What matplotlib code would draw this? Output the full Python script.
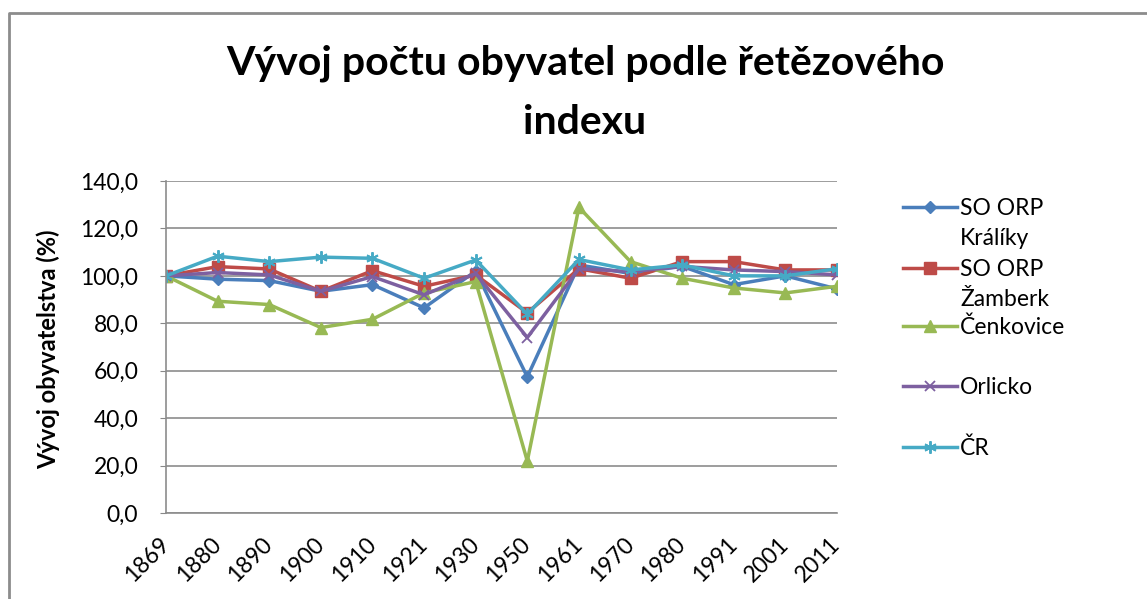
import numpy as np
import matplotlib.pyplot as plt
from matplotlib.lines import Line2D
from matplotlib.transforms import ScaledTranslation

# data (chain index, %)
years = ['1869', '1880', '1890', '1900', '1910', '1921', '1930',
         '1950', '1961', '1970', '1980', '1991', '2001', '2011']
kraliky = [100, 98.6, 98.0, 93.5, 96.3, 86.5, 102.0, 57.4, 104.6, 101.0, 104.0, 96.3, 100.0, 94.5]
zamberk = [100, 103.9, 102.9, 93.5, 102.2, 95.6, 100.4, 84.4, 103.0, 99.0, 106.0, 106.0, 102.5, 102.5]
cenkovice = [100, 89.3, 87.9, 78.2, 81.7, 92.8, 97.6, 21.9, 128.9, 106.0, 99.0, 94.9, 92.8, 95.6]
orlicko = [100, 101.4, 100.4, 93.5, 99.7, 92.0, 101.0, 74.0, 103.0, 101.8, 104.0, 102.5, 101.8, 100.4]
cr = [100, 108.3, 106.0, 107.9, 107.4, 99.0, 106.7, 83.8, 106.9, 102.5, 104.6, 100.0, 100.0, 103.0]

names = ['SO ORP\nKrálíky', 'SO ORP\nŽamberk', 'Čenkovice', 'Orlicko', 'ČR']
yticks = [0, 20, 40, 60, 80, 100, 120, 140]
title_lines = ['Vývoj počtu obyvatel podle řetězového', 'indexu']

plt.rcParams['font.family'] = ['Lato', 'DejaVu Sans']

# styles in Excel 2007 look
styles = [
    dict(color='#4A7EBB', marker='D', ms=6.5),
    dict(color='#BE4B48', marker='s', ms=8),
    dict(color='#98B954', marker='^', ms=9),
    dict(color='#7D60A0', marker='x', ms=7.5, mew=1.3),
    dict(color='#46AAC5', marker=(6, 2, 0), ms=9, mew=1.4),
]

W, H = 1147, 599
fig = plt.figure(figsize=(W / 100, H / 100), dpi=100)
ax = fig.add_axes([166 / W, 1 - 513 / H, 671 / W, 332 / H])

x = np.arange(len(years))
series = [kraliky, zamberk, cenkovice, orlicko, cr]
for vals, st in zip(series, styles):
    ax.plot(x, vals, lw=2.5, **st)

ax.set_xlim(0, len(years) - 1)
ax.set_ylim(0, 140)
ax.set_yticks(yticks)
ax.set_yticklabels([f'{v:.1f}'.replace('.', ',') for v in yticks], fontsize=16.5)
ax.set_xticks(x)
ax.set_xticklabels(years, fontsize=16.5, rotation=45, ha='right', va='center',
                   rotation_mode='anchor')
shift = ScaledTranslation(4 / 100, 0, fig.dpi_scale_trans)
for lbl in ax.get_xticklabels():
    lbl.set_transform(lbl.get_transform() + shift)
ax.tick_params(axis='x', length=0, pad=20)
ax.tick_params(axis='y', length=4, color='#888888', pad=16, direction='out')
ax.grid(axis='y', color='#8c8c8c', lw=1.2)
ax.set_axisbelow(True)
for s in ['top', 'right']:
    ax.spines[s].set_visible(False)
for s in ['left', 'bottom']:
    ax.spines[s].set_color('#8c8c8c')
    ax.spines[s].set_linewidth(1.2)

ax.set_ylabel('Vývoj obyvatelstva (%)', fontsize=17, fontweight='bold')
ax.yaxis.set_label_coords((60 - 166) / 671, (513 - 349) / 332)

# title, two lines like in the reference
for line, base in zip(title_lines, [75, 134]):
    fig.text(585 / W, 1 - base / H, line, ha='center', va='baseline',
             fontsize=29.5, fontweight='bold')

# legend drawn by hand so that the marker sits on the first text line
leg_y = [207, 268, 326, 386, 447]
for name, st, yy in zip(names, styles, leg_y):
    yf = 1 - yy / H
    fig.add_artist(Line2D([903 / W, 930 / W, 957 / W], [yf, yf, yf],
                          transform=fig.transFigure, lw=2.5, markevery=[1], **st))
    for i, part in enumerate(name.split('\n')):
        fig.text(960 / W, 1 - (yy + 8 + 30 * i) / H, part, fontsize=16.5,
                 va='baseline', ha='left')

# chart frame (only top and left edges are inside the picture)
fig.add_artist(Line2D([9 / W, 9 / W, 1.0], [0, 1 - 13 / H, 1 - 13 / H],
                      transform=fig.transFigure, color='#8c8c8c', lw=2))

fig.savefig('out.png', dpi=100)
